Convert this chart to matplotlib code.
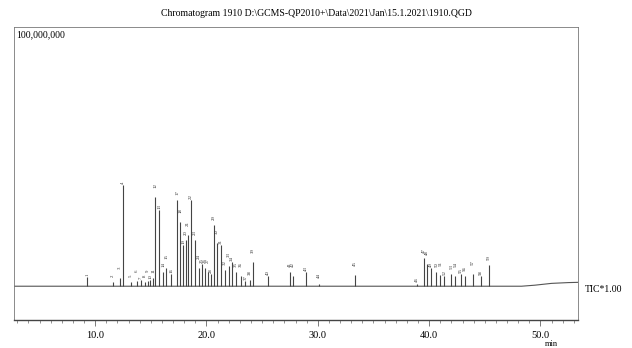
import numpy as np
import matplotlib
matplotlib.use("Agg")
import matplotlib.pyplot as plt
from matplotlib.ticker import MultipleLocator

plt.rcParams['font.family'] = ['Liberation Serif', 'DejaVu Serif']

# peak retention times (min) and heights (x 1,000,000 counts)
peak_times = [9.28, 11.62, 12.25, 12.52, 13.23, 13.77, 14.13, 14.49, 14.76, 14.94,
              15.21, 15.39, 15.75, 16.11, 16.38, 16.83, 17.37, 17.64, 17.91, 18.18,
              18.36, 18.63, 18.98, 19.34, 19.61, 19.88, 20.15, 20.42, 20.69, 20.96,
              21.32, 21.68, 22.04, 22.31, 22.67, 23.12, 23.50, 23.90, 24.20, 25.54,
              27.52, 27.79, 28.96, 30.10, 33.36, 38.90, 39.56, 39.83, 40.19, 40.64,
              41.00, 41.36, 41.99, 42.35, 42.88, 43.24, 43.96, 44.68, 45.40]
peak_heights = [3.5, 1.5, 3.1, 39.0, 1.5, 1.9, 2.3, 1.5, 1.9, 2.3,
                3.1, 34.4, 29.3, 5.4, 7.0, 4.6, 33.2, 24.7, 15.8, 17.8,
                19.7, 33.2, 17.8, 7.0, 8.5, 7.0, 5.4, 4.6, 23.5, 16.6,
                15.8, 6.2, 7.7, 9.3, 5.4, 3.9, 2.0, 2.5, 9.3, 3.9,
                5.4, 3.9, 5.4, 1.0, 4.2, 1.0, 10.8, 8.5, 7.0, 5.4,
                4.2, 3.9, 4.6, 3.9, 4.6, 3.9, 4.6, 3.9, 8.1]
peak_labels = [str(i + 1) for i in range(len(peak_times))]

# baseline drift points
base_t = [2.7, 48.3, 49.5, 51.0, 52.5, 53.4]
base_y = [0.0, 0.0, 0.4, 1.1, 1.4, 1.5]

fig = plt.figure(figsize=(6.32, 3.48), dpi=100)
ax = fig.add_axes([0.022, 0.08, 0.893, 0.842])

ax.plot(base_t, base_y, color='#555555', lw=0.8)
base_at_peaks = np.interp(peak_times, base_t, base_y)
ax.vlines(peak_times, base_at_peaks, base_at_peaks + np.array(peak_heights),
          color='#444444', lw=0.8)
# stagger labels a little where peaks crowd together
for i, (t, h, b, lab) in enumerate(zip(peak_times, peak_heights, base_at_peaks, peak_labels)):
    ax.text(t, b + h + 0.5 + (i % 3) * 1.5, lab, rotation=90, fontsize=3.5,
            ha='center', va='bottom', color='#333333')

ax.set_xlim(2.7, 53.4)
ax.set_ylim(-13.1, 100)
ax.xaxis.set_major_locator(MultipleLocator(10))
ax.xaxis.set_minor_locator(MultipleLocator(1))
ax.xaxis.set_major_formatter(lambda v, p: f"{v:.1f}")
ax.tick_params(axis='x', which='major', direction='out', length=4, width=0.6,
               labelsize=7.5, pad=4, color='#666666')
ax.tick_params(axis='x', which='minor', direction='out', length=2, width=0.5,
               color='#666666')
ax.set_yticks([])
for side in ['top', 'left', 'right']:
    ax.spines[side].set_linewidth(0.6)
    ax.spines[side].set_color('#777777')
ax.spines['bottom'].set_linewidth(1.0)
ax.spines['bottom'].set_color('#444444')

ax.text(0.004, 0.99, "100,000,000", transform=ax.transAxes, fontsize=7,
        ha='left', va='top')
fig.text(0.5, 0.975,
         "Chromatogram 1910 D:\\GCMS-QP2010+\\Data\\2021\\Jan\\15.1.2021\\1910.QGD",
         fontsize=7, ha='center', va='top')
fig.text(0.925, 1 - 290 / 348, "TIC*1.00", fontsize=7, ha='left', va='center')
fig.text(0.872, 1 - 344 / 348, "min", fontsize=6, ha='center', va='center')

fig.savefig("out.png", dpi=100)
